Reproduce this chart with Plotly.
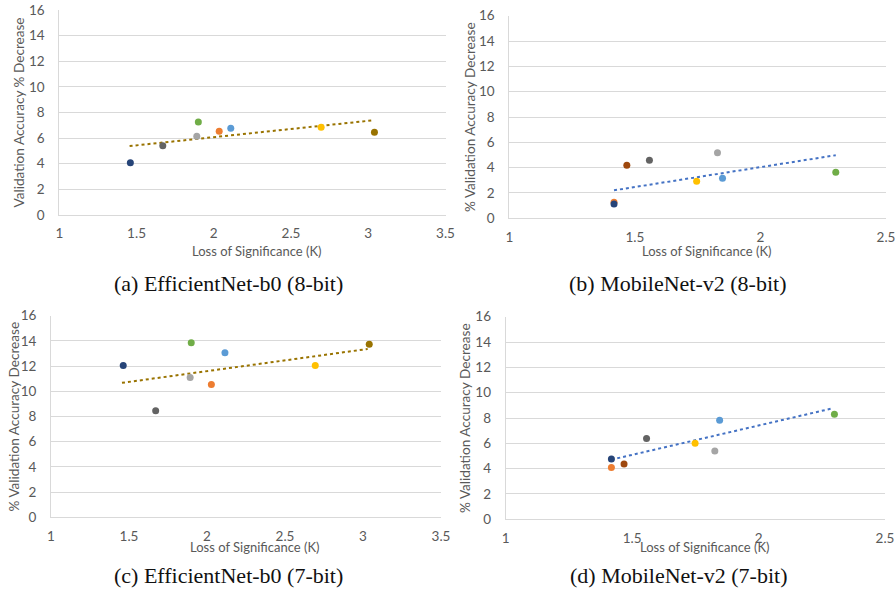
import plotly.graph_objects as go

NAVY = "#264478"; ORANGE = "#ED7D31"; GRAY = "#A5A5A5"; YELLOW = "#FFC000"
BLUE = "#5B9BD5"; GREEN = "#70AD47"; DKGRAY = "#636363"; BROWN = "#9E480E"; OLIVE = "#997300"

# (a) EfficientNet-b0 (8-bit)
a_x = [1.46, 1.67, 1.89, 1.90, 2.035, 2.11, 2.695, 3.04]
a_y = [4.08, 5.41, 6.14, 7.26, 6.53, 6.77, 6.85, 6.45]
a_colors = [NAVY, DKGRAY, GRAY, GREEN, ORANGE, BLUE, YELLOW, OLIVE]
a_trend_x = [1.455, 3.03]
a_trend_y = [5.38, 7.39]

# (b) MobileNet-v2 (8-bit)
b_x = [1.417, 1.417, 1.468, 1.558, 1.746, 1.829, 1.849, 2.30]
b_y = [1.26, 1.13, 4.18, 4.58, 2.92, 5.18, 3.16, 3.63]
b_colors = [ORANGE, NAVY, BROWN, DKGRAY, YELLOW, GRAY, BLUE, GREEN]
b_trend_x = [1.417, 2.30]
b_trend_y = [2.21, 4.98]

# (c) EfficientNet-b0 (7-bit)
c_x = [1.463, 1.671, 1.892, 1.899, 2.028, 2.115, 2.694, 3.04]
c_y = [12.05, 8.45, 11.1, 13.86, 10.54, 13.05, 12.05, 13.73]
c_colors = [NAVY, DKGRAY, GRAY, GREEN, ORANGE, BLUE, YELLOW, OLIVE]
c_trend_x = [1.455, 3.03]
c_trend_y = [10.67, 13.36]

# (d) MobileNet-v2 (7-bit)
d_x = [1.418, 1.418, 1.468, 1.557, 1.749, 1.827, 1.846, 2.30]
d_y = [4.10, 4.76, 4.37, 6.39, 6.00, 5.39, 7.82, 8.29]
d_colors = [ORANGE, NAVY, BROWN, DKGRAY, YELLOW, GRAY, BLUE, GREEN]
d_trend_x = [1.418, 2.292]
d_trend_y = [4.71, 8.76]

y_ticks = [0, 2, 4, 6, 8, 10, 12, 14, 16]
x_ticks_eff = [1, 1.5, 2, 2.5, 3, 3.5]
x_ticks_mob = [1, 1.5, 2, 2.5]

captions = ["(a) EfficientNet-b0 (8-bit)", "(b) MobileNet-v2 (8-bit)",
            "(c) EfficientNet-b0 (7-bit)", "(d) MobileNet-v2 (7-bit)"]
y_titles = ["Validation Accuracy % Decrease", "% Validation Accuracy Decrease",
            "% Validation Accuracy Decrease", "% Validation Accuracy Decrease"]
x_title = "Loss of Significance (K)"

W, H = 896, 598
TXT = "#595959"
GRID = "#d9d9d9"
TICKFONT = dict(family="Lato", size=13.5, color=TXT)
XTITLEFONT = dict(family="Lato", size=13, color=TXT)
YTITLEFONT = dict(family="Lato", size=13.6, color=TXT)

# panel pixel boxes: left, right, top, bottom
boxes = [(59.3, 445.5, 10, 215), (509.3, 886, 15.7, 218.3),
         (51, 441, 315.7, 517.3), (505.7, 885, 316.7, 519.3)]
panels = [
    (a_x, a_y, a_colors, a_trend_x, a_trend_y, OLIVE, [1, 3.5], x_ticks_eff),
    (b_x, b_y, b_colors, b_trend_x, b_trend_y, "#4472C4", [1, 2.5], x_ticks_mob),
    (c_x, c_y, c_colors, c_trend_x, c_trend_y, OLIVE, [1, 3.5], x_ticks_eff),
    (d_x, d_y, d_colors, d_trend_x, d_trend_y, "#4472C4", [1, 2.5], x_ticks_mob),
]
# pixel positions of text
ytitle_x = [18, 470, 13, 465]
xtitle_x = [256, 706, 254, 704]
xtitle_y = [251, 251, 547, 547]
caption_x = [228, 678, 228, 679]
caption_y = [283, 283, 575, 575]

fig = go.Figure()
layout = dict(width=W, height=H, margin=dict(l=0, r=0, t=0, b=0),
              paper_bgcolor="white", plot_bgcolor="white", showlegend=False,
              annotations=[])

for i, (px, py, pc, tx, ty, tcol, xr, xt) in enumerate(panels):
    n = "" if i == 0 else str(i + 1)
    xa, ya = "x" + n, "y" + n
    fig.add_trace(go.Scatter(x=tx, y=ty, mode="lines", xaxis=xa, yaxis=ya,
                             line=dict(color=tcol, width=2, dash="dot"),
                             hoverinfo="skip"))
    fig.add_trace(go.Scatter(x=px, y=py, mode="markers", xaxis=xa, yaxis=ya,
                             marker=dict(color=pc, size=7, line=dict(width=0))))
    l, r, t, b = boxes[i]
    layout["xaxis" + n] = dict(domain=[l / W, r / W], range=xr, tickvals=xt,
                               ticktext=[f"{v:g}" for v in xt], anchor=ya,
                               showgrid=False, zeroline=False, showline=True,
                               linecolor=GRID, linewidth=1, ticks="",
                               tickfont=TICKFONT, ticklabelstandoff=6,
                               ticklabeloverflow="allow", automargin=False)
    layout["yaxis" + n] = dict(domain=[1 - b / H, 1 - t / H], range=[0, 16],
                               tickvals=y_ticks, anchor=xa, showgrid=True,
                               gridcolor=GRID, gridwidth=1, zeroline=False,
                               showline=True, linecolor=GRID, linewidth=1,
                               ticks="", tickfont=TICKFONT, ticklabelstandoff=11,
                               automargin=False)
    layout["annotations"].append(dict(
        text=y_titles[i], textangle=-90, x=ytitle_x[i] / W, y=1 - ((t + b) / 2) / H,
        xref="paper", yref="paper", showarrow=False, font=YTITLEFONT,
        xanchor="center", yanchor="middle"))
    layout["annotations"].append(dict(
        text=x_title, x=xtitle_x[i] / W, y=1 - xtitle_y[i] / H, xref="paper",
        yref="paper", showarrow=False, font=XTITLEFONT,
        xanchor="center", yanchor="middle"))
    layout["annotations"].append(dict(
        text=captions[i], x=caption_x[i] / W, y=1 - caption_y[i] / H, xref="paper",
        yref="paper", showarrow=False,
        font=dict(family="Liberation Serif", size=22, color="#111111"),
        xanchor="center", yanchor="middle"))

fig.update_layout(**layout)
fig.write_html("out.html", config={"displayModeBar": False},
               post_script="document.body.style.margin='0';document.body.style.overflow='hidden';")
